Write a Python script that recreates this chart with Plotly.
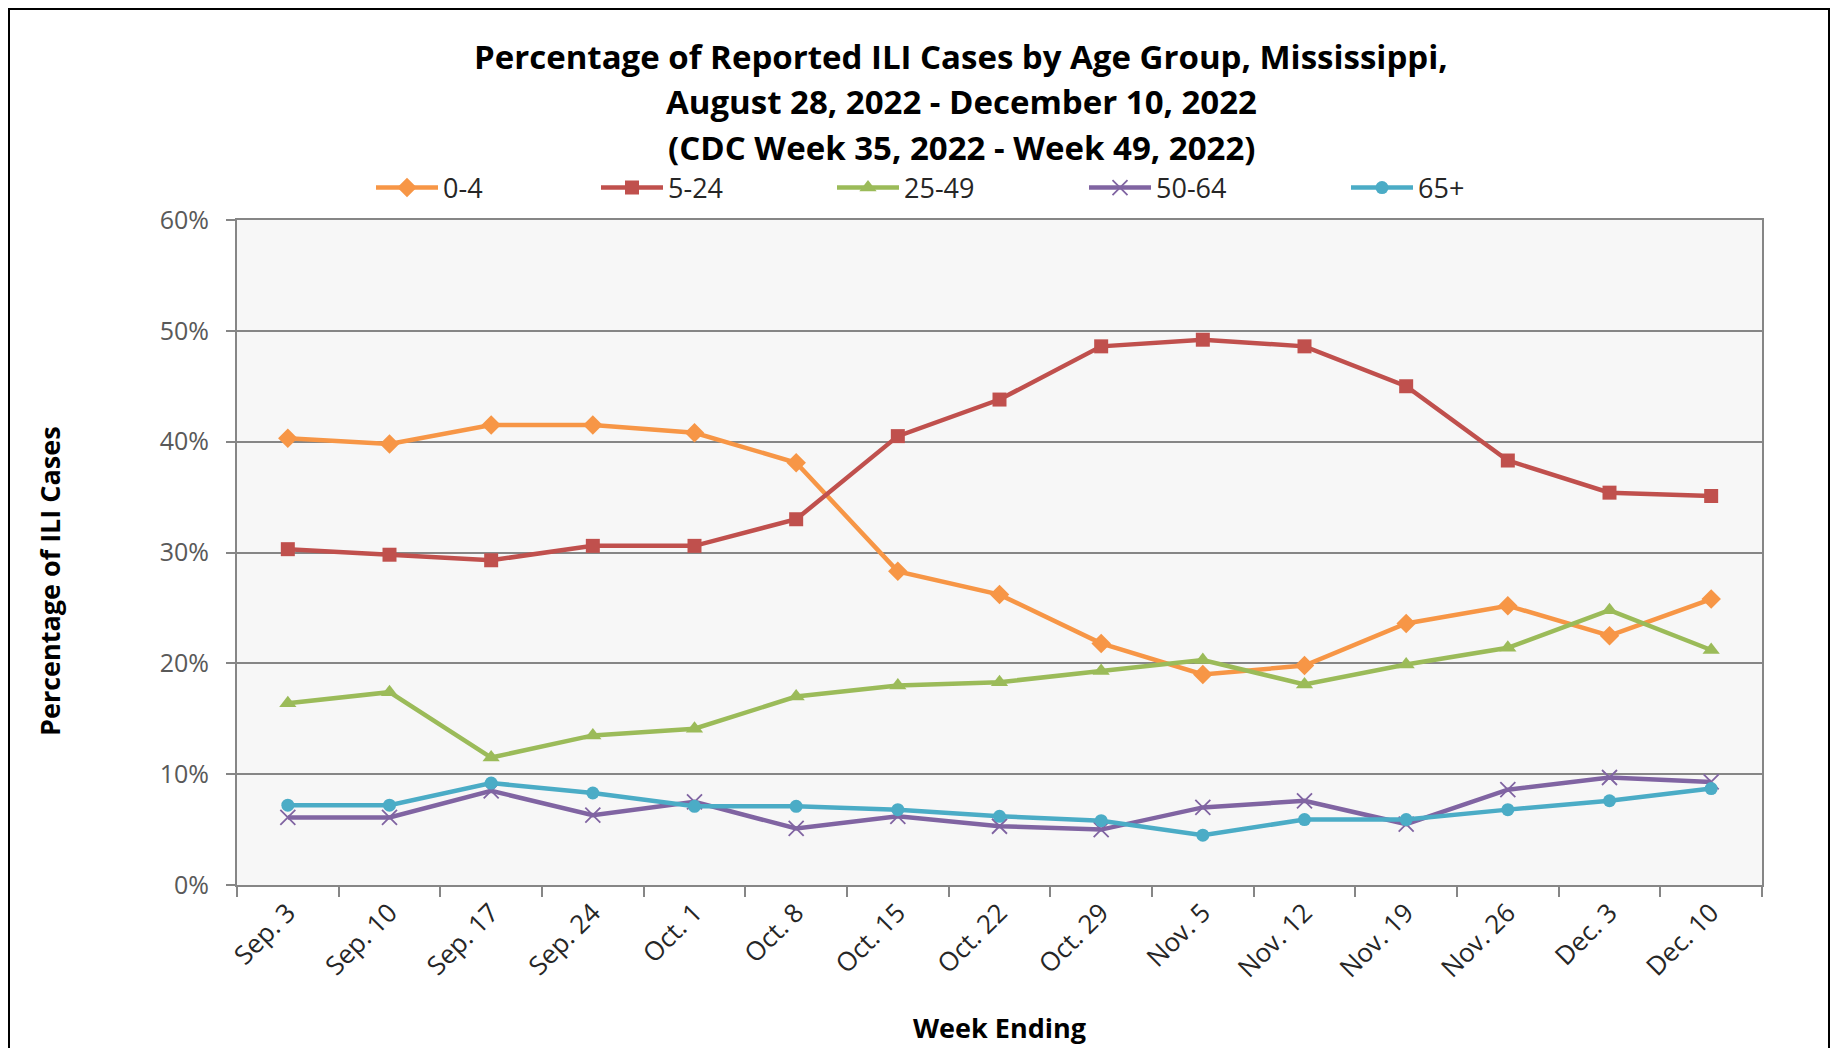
import plotly.graph_objects as go

weeks = ["Sep. 3", "Sep. 10", "Sep. 17", "Sep. 24", "Oct. 1", "Oct. 8", "Oct. 15", "Oct. 22",
         "Oct. 29", "Nov. 5", "Nov. 12", "Nov. 19", "Nov. 26", "Dec. 3", "Dec. 10"]

age_0_4 = [40.3, 39.8, 41.5, 41.5, 40.8, 38.1, 28.3, 26.2, 21.8, 19.0, 19.8, 23.6, 25.2, 22.5, 25.8]
age_5_24 = [30.3, 29.8, 29.3, 30.6, 30.6, 33.0, 40.5, 43.8, 48.6, 49.2, 48.6, 45.0, 38.3, 35.4, 35.1]
age_25_49 = [16.4, 17.4, 11.5, 13.5, 14.1, 17.0, 18.0, 18.3, 19.3, 20.3, 18.1, 19.9, 21.4, 24.8, 21.2]
age_50_64 = [6.1, 6.1, 8.5, 6.3, 7.5, 5.1, 6.2, 5.3, 5.0, 7.0, 7.6, 5.5, 8.6, 9.7, 9.3]
age_65_plus = [7.2, 7.2, 9.2, 8.3, 7.1, 7.1, 6.8, 6.2, 5.8, 4.5, 5.9, 5.9, 6.8, 7.6, 8.7]

series_names = ["0-4", "5-24", "25-49", "50-64", "65+"]
series_values = [age_0_4, age_5_24, age_25_49, age_50_64, age_65_plus]
colors = ["#F79646", "#C0504D", "#9BBB59", "#8064A2", "#4BACC6"]
symbols = ["diamond", "square", "triangle-up", "x-thin", "circle"]
sizes = [15, 14, 15, 15, 13]
legend_x_screen = [377, 602, 838, 1090, 1352]

OFF = 8  # page body margin
W, H = 1838 - OFF, 1048 - OFF
L = 237 - OFF
T = 220 - OFF
R = W - (1762 - OFF)
B = H - (885 - OFF)
pw, ph = W - L - R, H - T - B


def px(x):
    return (x - OFF - L) / pw


def py(y):
    return (H - B - (y - OFF)) / ph


fig = go.Figure()
layout_legends = {}
for i, (name, vals, c, s, sz) in enumerate(zip(series_names, series_values, colors, symbols, sizes)):
    lg = "legend" if i == 0 else "legend%d" % (i + 1)
    fig.add_trace(go.Scatter(
        x=weeks, y=[v / 100 for v in vals], name=name, mode="lines+markers",
        line=dict(color=c, width=4.5), legend=lg,
        marker=dict(symbol=s, size=sz, color=c,
                    line=dict(color=c, width=1.8 if s == "x-thin" else 0)),
    ))
    layout_legends[lg] = dict(
        orientation="h", x=px(legend_x_screen[i] - 6), xanchor="left",
        y=py(188), yanchor="middle",
        font=dict(size=27, color="#262626"), itemwidth=62,
        bgcolor="rgba(0,0,0,0)",
    )

fig.update_layout(
    width=W, height=H,
    margin=dict(l=L, r=R, t=T, b=B, autoexpand=False),
    paper_bgcolor="white",
    plot_bgcolor="#F7F7F7",
    font=dict(family="Open Sans, sans-serif", color="#404040"),
    showlegend=True,
    xaxis=dict(
        type="category", tickangle=-45, tickson="boundaries", ticks="outside", ticklen=10,
        tickcolor="#868686", tickwidth=1.5, showline=True, linecolor="#868686", linewidth=2,
        mirror=True, showgrid=False, tickfont=dict(size=26, color="#262626"),
        range=[-0.5, len(weeks) - 0.5],
    ),
    yaxis=dict(
        range=[0, 0.6], dtick=0.1, tickformat=".0%", ticks="outside", ticklen=9,
        tickcolor="#868686", tickwidth=1.5, showline=True, linecolor="#868686", linewidth=2,
        mirror=True, showgrid=True, gridcolor="#868686", gridwidth=1.5, zeroline=False,
        tickfont=dict(size=25, color="#595959"), ticklabelstandoff=12,
    ),
    **layout_legends,
)

title_lines = ["Percentage of Reported ILI Cases by Age Group, Mississippi,",
               "August 28, 2022 - December 10, 2022",
               "(CDC Week 35, 2022 - Week 49, 2022)"]
title_y = [56, 101, 148]
for t, ty in zip(title_lines, title_y):
    fig.add_annotation(text="<b>%s</b>" % t, xref="paper", yref="paper",
                       x=px(961), y=py(ty), xanchor="center", yanchor="middle",
                       showarrow=False, font=dict(size=33, color="#000000"))

fig.add_annotation(text="<b>Percentage of ILI Cases</b>", xref="paper", yref="paper",
                   x=px(49), y=py(581), xanchor="center", yanchor="middle", textangle=-90,
                   showarrow=False, font=dict(size=27, color="#000000"))
fig.add_annotation(text="<b>Week Ending</b>", xref="paper", yref="paper",
                   x=px(999), y=py(1027), xanchor="center", yanchor="middle",
                   showarrow=False, font=dict(size=27, color="#000000"))

fig.add_shape(type="rect", xref="paper", yref="paper",
              x0=px(9), x1=px(1829), y0=py(1060), y1=py(9),
              line=dict(color="#000000", width=2), fillcolor="rgba(0,0,0,0)", layer="below")

fig.write_html("out.html")
